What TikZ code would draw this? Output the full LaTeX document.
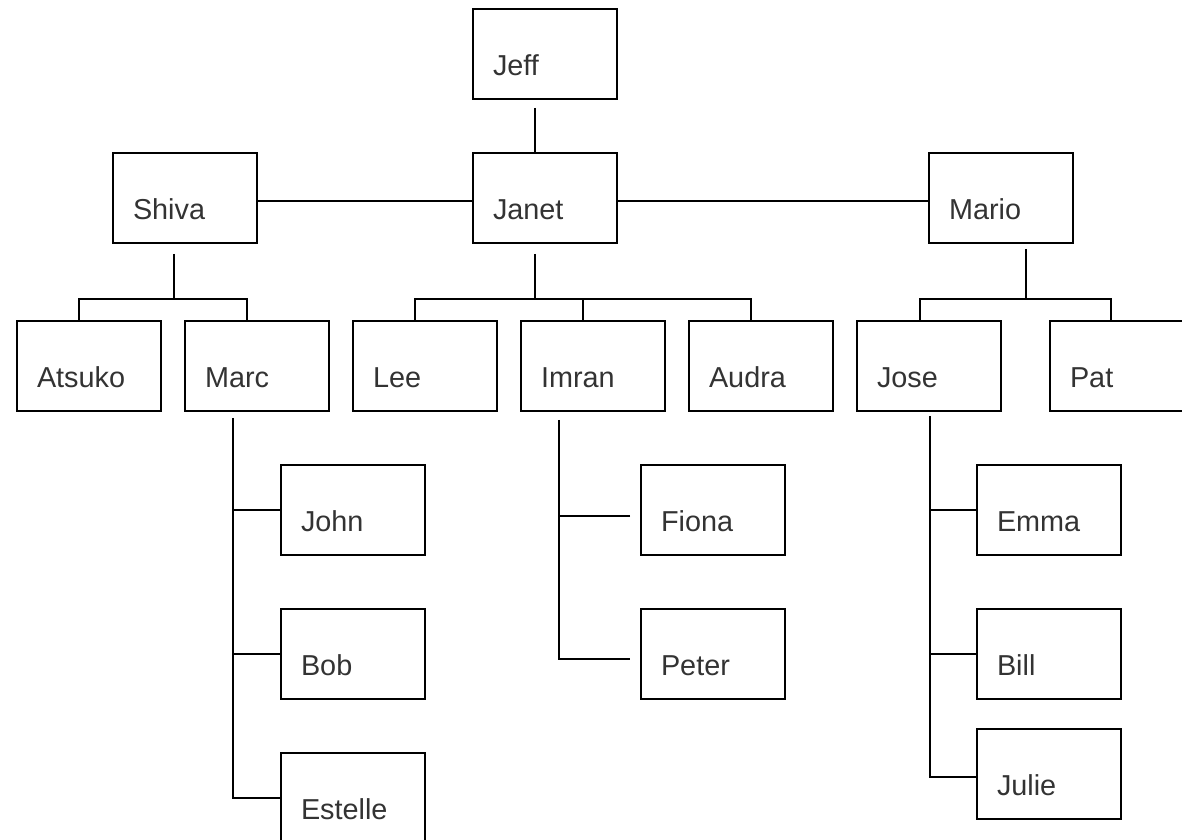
\documentclass[tikz,border=0pt]{standalone}
\usepackage{fontspec}
\setmainfont{Liberation Sans}
\usepackage{xcolor}
\usepackage{tikz}
\usetikzlibrary{positioning}

\begin{document}
\begin{tikzpicture}[
  font=\fontsize{16.4pt}{19pt}\selectfont,
  person/.style={
    draw=black,
    line width=1.1pt,
    text=black!80,
    align=left,
    text width=2.08cm,
    inner xsep=0.4cm,
    inner ysep=0pt,
    text height=1.34cm,
    text depth=0.46cm
  },
  link/.style={
    draw=black,
    line width=1.1pt
  }
]

\useasboundingbox (0,0) rectangle (23.64,16.8);

% Top
\node[person] (jeff) at (10.9,15.72) {Jeff};

% Row 1
\node[person] (shiva) at (3.7,12.84) {Shiva};
\node[person] (janet) at (10.9,12.84) {Janet};
\node[person] (mario) at (20.02,12.84) {Mario};

% Row 2
\node[person] (atsuko) at (1.78,9.48) {Atsuko};
\node[person] (marc) at (5.14,9.48) {Marc};
\node[person] (lee) at (8.5,9.48) {Lee};
\node[person] (imran) at (11.86,9.48) {Imran};
\node[person] (audra) at (15.22,9.48) {Audra};
\node[person] (jose) at (18.58,9.48) {Jose};
\node[person] (pat) at (22.44,9.48) {Pat};

% Under Marc
\node[person] (john) at (7.06,6.6) {John};
\node[person] (bob) at (7.06,3.72) {Bob};
\node[person] (estelle) at (7.06,0.84) {Estelle};

% Under Imran
\node[person] (fiona) at (14.26,6.6) {Fiona};
\node[person] (peter) at (14.26,3.72) {Peter};

% Under Jose
\node[person] (emma) at (20.98,6.6) {Emma};
\node[person] (bill) at (20.98,3.72) {Bill};
\node[person] (julie) at (20.98,1.32) {Julie};

% Bus points
\coordinate (shivabus) at ([xshift=-0.22cm,yshift=-1.1cm]shiva.south);
\coordinate (janetbus) at ([xshift=-0.2cm,yshift=-1.1cm]janet.south);
\coordinate (mariobus) at ([xshift=0.5cm,yshift=-1.1cm]mario.south);
\coordinate (marcspine) at ([xshift=-0.48cm,yshift=-0.12cm]marc.south);
\coordinate (imranspine) at ([xshift=-0.68cm,yshift=-0.16cm]imran.south);
\coordinate (josespine) at ([xshift=0.02cm,yshift=-0.08cm]jose.south);

% Links top
\draw[link] ([xshift=-0.2cm,yshift=-0.16cm]jeff.south) -- ([xshift=-0.2cm]janet.north);
\draw[link] ([yshift=-0.06cm]shiva.east) -- ([yshift=-0.06cm]janet.west);
\draw[link] ([yshift=-0.06cm]janet.east) -- ([yshift=-0.06cm]mario.west);

% Links row 1 to row 2
\draw[link] ([xshift=-0.22cm,yshift=-0.2cm]shiva.south) -- (shivabus);
\draw[link] ([xshift=-0.2cm]atsuko.north) |- (shivabus) -| ([xshift=-0.2cm]marc.north);

\draw[link] ([xshift=-0.2cm,yshift=-0.2cm]janet.south) -- (janetbus);
\draw[link] ([xshift=-0.2cm]lee.north) |- (janetbus) -| ([xshift=-0.2cm]audra.north);
\draw[link] ([xshift=-0.2cm]imran.north) -- ([xshift=-0.2cm]imran.north |- janetbus);

\draw[link] ([xshift=0.5cm,yshift=-0.1cm]mario.south) -- (mariobus);
\draw[link] ([xshift=-0.18cm]jose.north) |- (mariobus) -| ([xshift=-0.22cm]pat.north);

% Links row 2 down
\draw[link] (marcspine) |- (estelle.west);
\draw[link] (john.west) -- (john.west -| marcspine);
\draw[link] (bob.west) -- (bob.west -| marcspine);

\draw[link] (imranspine) |- ([xshift=-0.2cm,yshift=-0.1cm]peter.west);
\draw[link] ([xshift=-0.2cm,yshift=-0.12cm]fiona.west) -- ([yshift=-0.12cm]fiona.west -| imranspine);

\draw[link] (josespine) |- ([yshift=-0.06cm]julie.west);
\draw[link] (emma.west) -- (emma.west -| josespine);
\draw[link] (bill.west) -- (bill.west -| josespine);

\end{tikzpicture}
\end{document}
